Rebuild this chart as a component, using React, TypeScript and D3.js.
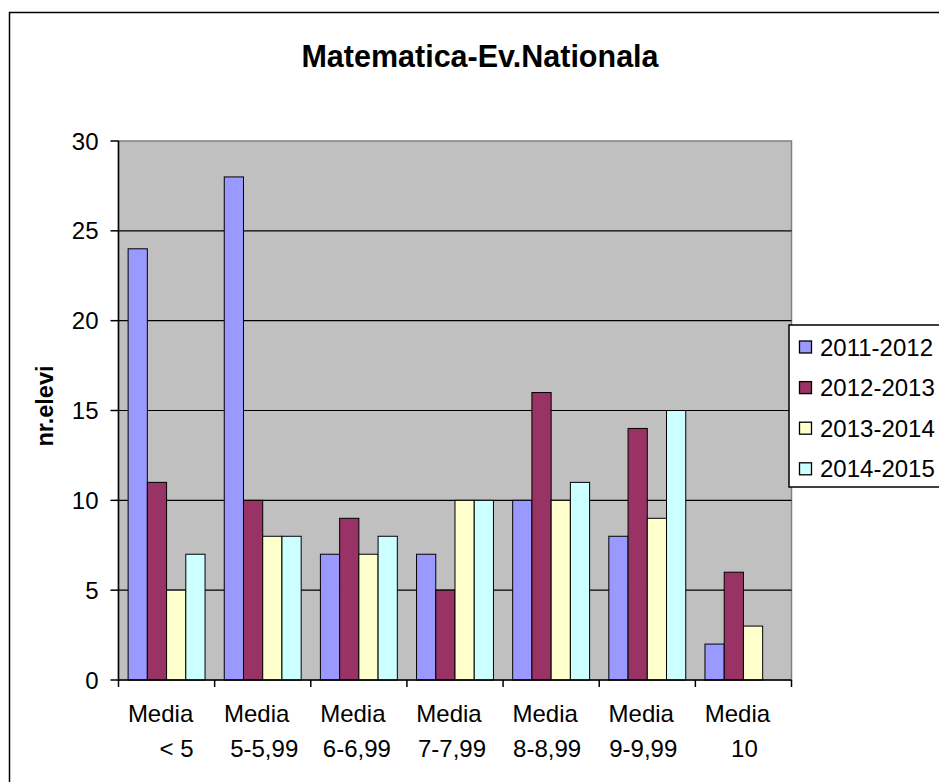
import React from "react";
import * as d3 from "d3";

const categories = ["Media\n< 5", "Media\n5-5,99", "Media\n6-6,99", "Media\n7-7,99", "Media\n8-8,99", "Media\n9-9,99", "Media\n10"];
const seriesNames = ["2011-2012", "2012-2013", "2013-2014", "2014-2015"];
const s2011 = [24, 28, 7, 7, 10, 8, 2];
const s2012 = [11, 10, 9, 5, 16, 14, 6];
const s2013 = [5, 8, 7, 10, 10, 9, 3];
const s2014 = [7, 8, 8, 10, 11, 15, 0];
const yTicks = [0, 5, 10, 15, 20, 25, 30];
const colors = ["#9999FF", "#993366", "#FFFFCC", "#CCFFFF"];
const line2Shift = [10, 1.5, -2, -3, -4, -4, 1];

export default function App() {
  const W = 939, H = 782;
  const left = 118.5, right = 791.5, top = 141, bottom = 680;
  const series = [s2011, s2012, s2013, s2014];
  const x = d3.scaleBand().domain(categories).range([left, right]).paddingInner(0).paddingOuter(0);
  const gw = x.bandwidth();
  const barW = gw / 5;
  const y = d3.scaleLinear().domain([0, 30]).range([bottom, top]);
  const font = "Arial, 'Liberation Sans', sans-serif";
  return (
    <svg width={W} height={H} style={{ position: "absolute", left: 0, top: 0 }} fontFamily={font}>
      <rect x={0} y={0} width={W} height={H} fill="#fff" />
      <rect x={9.5} y={12.5} width={W} height={H} fill="#fff" stroke="#000" strokeWidth={1.5} />
      <text x={480} y={67} textAnchor="middle" fontSize={30.5} fontWeight="bold">Matematica-Ev.Nationala</text>
      <rect x={left} y={top} width={right - left} height={bottom - top} fill="#C0C0C0" stroke="#808080" strokeWidth={1.5} />
      {yTicks.filter(t => t > 0 && t < 30).map(t => (
        <line key={t} x1={left} x2={right} y1={y(t)} y2={y(t)} stroke="#000" strokeWidth={1.2} />
      ))}
      {series.map((s, si) =>
        s.map((v, ci) => v > 0 ? (
          <rect key={si + "-" + ci} x={(x(categories[ci]) as number) + barW / 2 + si * barW} y={y(v)} width={barW} height={y(0) - y(v)} fill={colors[si]} stroke="#000" strokeWidth={1} />
        ) : null)
      )}
      <line x1={left} x2={left} y1={top} y2={bottom} stroke="#000" strokeWidth={1.5} />
      <line x1={left} x2={right} y1={bottom} y2={bottom} stroke="#000" strokeWidth={1.5} />
      {yTicks.map(t => (
        <g key={t}>
          <line x1={left - 8} x2={left} y1={y(t)} y2={y(t)} stroke="#000" strokeWidth={1.5} />
          <text x={left - 20} y={y(t) + 8.5} textAnchor="end" fontSize={24}>{t}</text>
        </g>
      ))}
      {categories.map((c, i) => (
        <line key={"t" + i} x1={x(c) as number} x2={x(c) as number} y1={bottom} y2={bottom + 7} stroke="#000" strokeWidth={1.5} />
      ))}
      <line x1={right} x2={right} y1={bottom} y2={bottom + 7} stroke="#000" strokeWidth={1.5} />
      {categories.map((c, i) => {
        const [l1, l2] = c.split("\n");
        const cx = (x(c) as number) + gw / 2;
        return (
          <g key={"l" + i}>
            <text x={cx - 6} y={722} textAnchor="middle" fontSize={24}>{l1}</text>
            <text x={cx + line2Shift[i]} y={757} textAnchor="middle" fontSize={24}>{l2}</text>
          </g>
        );
      })}
      <text transform={`translate(53,406) rotate(-90)`} textAnchor="middle" fontSize={23.5} fontWeight="bold">nr.elevi</text>
      <rect x={789} y={325} width={160} height={162} fill="#fff" stroke="#000" strokeWidth={1.5} />
      {seriesNames.map((n, i) => (
        <g key={n}>
          <rect x={799.5} y={341 + i * 40.6} width={12} height={12} fill={colors[i]} stroke="#000" strokeWidth={1.3} />
          <text x={820} y={355.5 + i * 40.6} fontSize={24}>{n}</text>
        </g>
      ))}
    </svg>
  );
}
